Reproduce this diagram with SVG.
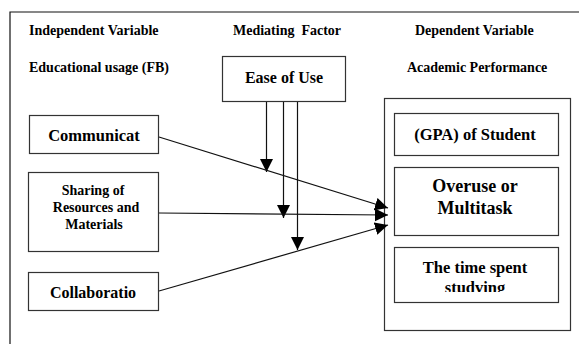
<svg xmlns="http://www.w3.org/2000/svg" width="579" height="344" viewBox="0 0 579 344">
<defs>
<style>
text{font-family:'Liberation Serif','DejaVu Serif',serif;font-weight:bold;fill:#000}
.t{text-anchor:middle}
.h{font-size:14px;text-anchor:start}
.box{fill:#fff;stroke:#333;stroke-width:1.2}
.ln{stroke:#111;stroke-width:1.2;fill:none}
</style>
<marker id="ah" markerUnits="userSpaceOnUse" markerWidth="14" markerHeight="14" viewBox="0 0 14 14" refX="13" refY="7" orient="auto">
<path d="M0,0.5 L13,7 L0,13.5 Z" fill="#000"/>
</marker>
<clipPath id="clipTime"><rect x="395" y="248" width="163" height="44"/></clipPath>
</defs>
<g id="frame">
<path class="ln" d="M10,344 V12 H579"/>
</g>
<g id="headers">
<text class="h" x="29" y="35">Independent Variable</text>
<text class="h" x="29" y="72">Educational usage (FB)</text>
<text class="h" x="233" y="35" xml:space="preserve">Mediating  Factor</text>
<text class="h" x="415" y="35">Dependent Variable</text>
<text class="h" x="407" y="72">Academic Performance</text>
</g>
<g id="ease">
<rect class="box" x="222.5" y="56.5" width="123" height="45"/>
<text class="t" x="284" y="83" font-size="16">Ease of Use</text>
</g>
<g id="communicat">
<rect class="box" x="29.5" y="115.5" width="129" height="38"/>
<text class="t" x="94" y="141" font-size="16.5">Communicat</text>
</g>
<g id="sharing">
<rect class="box" x="28.5" y="172.5" width="130" height="79"/>
<text class="t" x="93" y="195" font-size="14">Sharing of</text>
<text class="t" x="96" y="212" font-size="14">Resources and</text>
<text class="t" x="94" y="229" font-size="14">Materials</text>
</g>
<g id="collaboratio">
<rect class="box" x="28.5" y="272.5" width="130" height="38"/>
<text class="t" x="93" y="298" font-size="16">Collaboratio</text>
</g>
<g id="academic">
<rect class="box" x="384.5" y="98.5" width="186" height="232"/>
</g>
<g id="gpa">
<rect class="box" x="394.5" y="113.5" width="164" height="42"/>
<text class="t" x="475" y="140" font-size="16.5">(GPA) of Student</text>
</g>
<g id="overuse">
<rect class="box" x="394.5" y="167.5" width="164" height="68"/>
<text class="t" x="475" y="192" font-size="18">Overuse or</text>
<text class="t" x="475" y="214" font-size="18">Multitask</text>
</g>
<g id="time">
<rect class="box" x="394.5" y="247.5" width="164" height="55"/>
<text class="t" x="475" y="273" font-size="16.5">The time spent</text>
<text class="t" x="475" y="293" font-size="16.5" clip-path="url(#clipTime)">studving</text>
</g>
<g id="connectors">
<line class="ln" x1="266.5" y1="102" x2="266.5" y2="172" marker-end="url(#ah)"/>
<line class="ln" x1="283.5" y1="102" x2="283.5" y2="218" marker-end="url(#ah)"/>
<line class="ln" x1="297.5" y1="102" x2="297.5" y2="250" marker-end="url(#ah)"/>
<line class="ln" x1="159" y1="137" x2="388" y2="208" marker-end="url(#ah)"/>
<line class="ln" x1="159" y1="213" x2="388" y2="215" marker-end="url(#ah)"/>
<line class="ln" x1="159" y1="291" x2="388" y2="225" marker-end="url(#ah)"/>
</g>
</svg>
